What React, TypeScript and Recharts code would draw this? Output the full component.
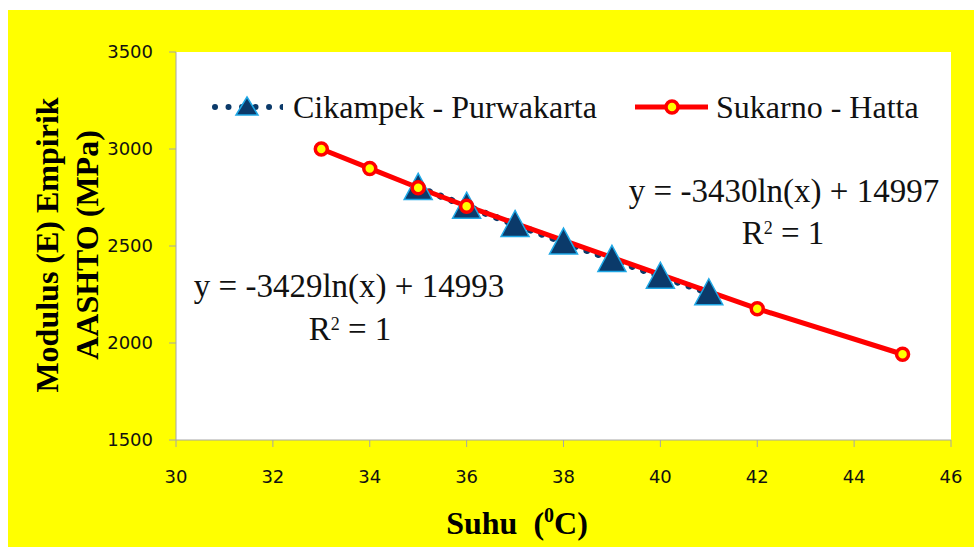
import { LineChart, Line, XAxis, YAxis, CartesianGrid, Legend } from "recharts";

// data
const suhuCikampek = [35, 36, 37, 38, 39, 40, 41];
const modulusCikampek = [2802, 2705, 2611, 2520, 2431, 2344, 2259];
const suhuSukarno = [33, 34, 35, 36, 42, 45];
const modulusSukarno = [3000, 2900, 2800, 2705, 2177, 1942];
const xTicks = [30, 32, 34, 36, 38, 40, 42, 44, 46];
const yTicks = [1500, 2000, 2500, 3000, 3500];

const cikampekData = suhuCikampek.map((x, i) => ({ x, y: modulusCikampek[i] }));
const sukarnoData = suhuSukarno.map((x, i) => ({ x, y: modulusSukarno[i] }));

const NAVY = "#0B3A6A";
const LIGHTBLUE = "#1FA8E6";
const RED = "#FF0000";
const YELLOW = "#FFFF00";
const SERIF = '"Liberation Serif", Tinos, "Times New Roman", "DejaVu Serif", serif';
const SANS = '"DejaVu Sans", Verdana, sans-serif';

const Triangle = (props: any) => {
  const { cx, cy, index } = props;
  if (cx == null || cy == null) return <g key={`t-${index}`} />;
  return (
    <path
      key={`t-${index}`}
      d={`M${cx},${cy - 14} L${cx + 14},${cy + 12} L${cx - 14},${cy + 12} Z`}
      fill={NAVY}
      stroke={LIGHTBLUE}
      strokeWidth={1.5}
    />
  );
};

const Ring = (props: any) => {
  const { cx, cy, index } = props;
  if (cx == null || cy == null) return <g key={`c-${index}`} />;
  return <circle key={`c-${index}`} cx={cx} cy={cy} r={6} fill={YELLOW} stroke={RED} strokeWidth={3.5} />;
};

const LegendBox = () => (
  <div style={{ position: "relative", height: 0 }}>
    <div
      style={{
        position: "absolute",
        left: 203,
        top: 81,
        display: "flex",
        alignItems: "center",
        height: 32,
        fontFamily: SERIF,
        fontSize: 32,
        lineHeight: "32px",
        color: "#111",
        whiteSpace: "nowrap",
      }}
    >
      <div style={{ width: 424, display: "flex", alignItems: "center" }}>
        <svg width={72} height={32} style={{ marginRight: 10 }}>
          <line x1={4} y1={16} x2={72} y2={16} stroke={NAVY} strokeWidth={6} strokeDasharray="0.01 13.5" strokeLinecap="round" />
          <path d="M36,6 L47,24 L25,24 Z" fill={NAVY} stroke={LIGHTBLUE} strokeWidth={1.5} />
        </svg>
        <span>Cikampek - Purwakarta</span>
      </div>
      <div style={{ display: "flex", alignItems: "center" }}>
        <svg width={73} height={32} style={{ marginRight: 8 }}>
          <line x1={0} y1={16} x2={73} y2={16} stroke={RED} strokeWidth={5} />
          <circle cx={37} cy={16} r={6} fill={YELLOW} stroke={RED} strokeWidth={3.5} />
        </svg>
        <span>Sukarno - Hatta</span>
      </div>
    </div>
  </div>
);

const eqStyle = {
  position: "absolute" as const,
  fontFamily: SERIF,
  fontSize: 33,
  lineHeight: "33px",
  color: "#111",
  textAlign: "center" as const,
  whiteSpace: "nowrap" as const,
  width: 400,
};

export default function App() {
  return (
    <div
      style={{
        position: "fixed",
        left: 8,
        top: 10,
        width: 966,
        height: 537,
        background: YELLOW,
        overflow: "hidden",
      }}
    >
      <LineChart width={966} height={537} margin={{ top: 42, right: 23, bottom: 0, left: 0 }}>
        <CartesianGrid fill="#FFFFFF" stroke="none" horizontal={false} vertical={false} />
        <XAxis
          type="number"
          dataKey="x"
          domain={[30, 46]}
          ticks={xTicks}
          allowDataOverflow
          height={107}
          stroke="#A6A6A6"
          tickSize={7}
          tickMargin={23}
          tick={{ fill: "#111", fontSize: 18, fontFamily: SANS }}
        />
        <YAxis
          type="number"
          dataKey="y"
          domain={[1500, 3500]}
          ticks={yTicks}
          allowDataOverflow
          width={168}
          stroke="#A6A6A6"
          tickSize={7}
          tickMargin={16}
          tick={{ fill: "#111", fontSize: 18, fontFamily: SANS }}
        />
        <Legend verticalAlign="top" content={LegendBox} wrapperStyle={{ top: 0, left: 0, width: 966 }} />
        <Line
          data={cikampekData}
          dataKey="y"
          name="Cikampek - Purwakarta"
          stroke={NAVY}
          strokeWidth={7}
          strokeDasharray="0.01 12"
          strokeLinecap="round"
          dot={Triangle}
          activeDot={false}
          isAnimationActive={false}
        />
        <Line
          data={sukarnoData}
          dataKey="y"
          name="Sukarno - Hatta"
          stroke={RED}
          strokeWidth={5}
          dot={Ring}
          activeDot={false}
          isAnimationActive={false}
        />
      </LineChart>

      <div style={{ ...eqStyle, left: 141, top: 260 }}>y = -3429ln(x) + 14993</div>
      <div style={{ ...eqStyle, left: 142, top: 298 }}>
        R<sup style={{ fontSize: 18, verticalAlign: "10px" }}>2</sup> = 1
      </div>
      <div style={{ ...eqStyle, left: 576, top: 165 }}>y = -3430ln(x) + 14997</div>
      <div style={{ ...eqStyle, left: 575, top: 202 }}>
        R<sup style={{ fontSize: 18, verticalAlign: "10px" }}>2</sup> = 1
      </div>

      <div
        style={{
          position: "absolute",
          left: 309,
          top: 489,
          width: 400,
          textAlign: "center",
          fontFamily: SERIF,
          fontWeight: "bold",
          fontSize: 32,
          lineHeight: "32px",
          color: "#000",
          whiteSpace: "nowrap",
        }}
      >
        Suhu&nbsp; (<span style={{ fontSize: 20, verticalAlign: "12px" }}>0</span>C)
      </div>

      <div
        style={{
          position: "absolute",
          left: -141,
          top: 195,
          width: 400,
          height: 80,
          transform: "rotate(-90deg)",
          transformOrigin: "center",
          textAlign: "center",
          fontFamily: SERIF,
          fontWeight: "bold",
          fontSize: 32,
          lineHeight: "40px",
          color: "#000",
          whiteSpace: "nowrap",
        }}
      >
        <div>Modulus (E) Empirik</div>
        <div>AASHTO (MPa)</div>
      </div>
    </div>
  );
}
